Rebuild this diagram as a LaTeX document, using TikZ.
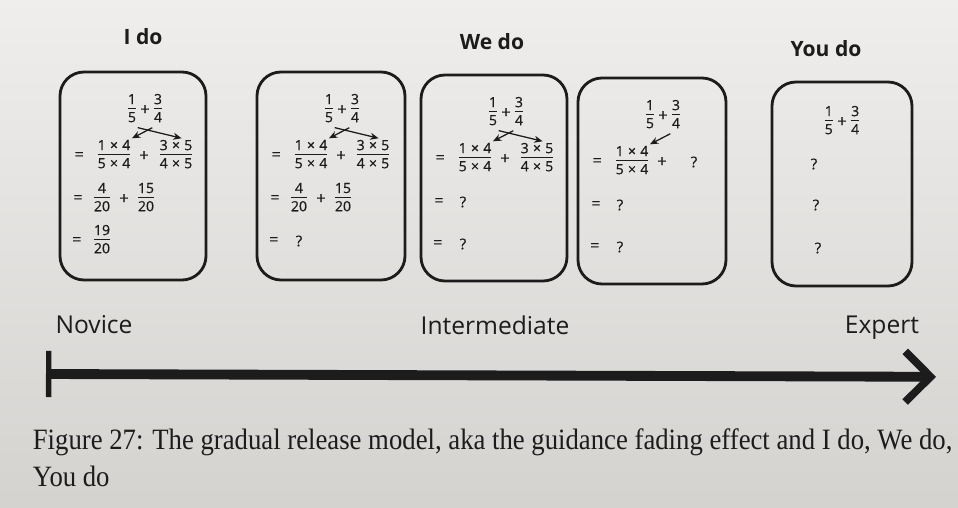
\documentclass[tikz,border=0pt]{standalone}
\usepackage{fontspec}
\setmainfont{Open Sans}
\newfontfamily\sumfont[FakeBold=0.6]{Open Sans}
\newfontfamily\capfont[FakeStretch=0.905]{Liberation Serif}
\usetikzlibrary{arrows.meta}
\definecolor{paper}{RGB}{226,224,221}
\definecolor{ink}{RGB}{28,28,28}
\setlength{\arrayrulewidth}{0.8pt}
\newcommand{\fr}[2]{{\renewcommand{\arraystretch}{0.82}\begin{tabular}{@{}c@{}}#1\\\hline\noalign{\vskip 2.2pt}#2\end{tabular}}}
\newcommand{\tms}{\hspace{0.3em}×\hspace{0.3em}}

\begin{document}
\begin{tikzpicture}[
		every node/.style={text=ink, font=\sumfont\fontsize{10}{11}\selectfont, inner sep=1pt},
		op/.style={font=\sumfont\fontsize{11.5}{12}\selectfont},
		card/.style={draw=ink, line width=2pt, rounded corners=0.6cm},
		title/.style={font=\rmfamily\fontsize{15}{17}\selectfont\bfseries},
		level/.style={font=\rmfamily\fontsize{17.5}{20}\selectfont},
		cross/.style={-{Stealth[length=6pt,width=5pt]}, line width=0.9pt, draw=ink},
		ask/.style={font=\sumfont\fontsize{10.5}{12}\selectfont}
	]
	\shade[top color=paper!55!white, bottom color=paper!94!black] (0,0) rectangle (23.95,-12.7);
	\useasboundingbox (0,0) rectangle (23.95,-12.7);

	\node[title] (ido) at (3.575,-0.925) {I do};
	\node[title] (wedo) at (12.3,-1.05) {We do};
	\node[title] (youdo) at (20.65,-1.225) {You do};

	\begin{scope}[shift={(1.5,-1.8)}]
		\draw[card] (0,0) rectangle (3.65,-5.2);
		\node (b1a) at (1.8,-0.95) {\fr{1}{5}};
		\node[op] (b1p) at (2.125,-0.95) {+};
		\node (b1b) at (2.45,-0.95) {\fr{3}{4}};
		\node[op] (b1e) at (0.48,-2.1) {=};
		\node (b1c) at (1.35,-2.1) {\fr{1\tms4}{5\tms4}};
		\node[op] (b1q) at (2.1,-2.1) {+};
		\node (b1d) at (2.9,-2.1) {\fr{3\tms5}{4\tms5}};
		\node[op] (b1f) at (0.45,-3.175) {=};
		\node (b1g) at (1.05,-3.175) {\fr{4}{20}};
		\node[op] (b1r) at (1.6,-3.175) {+};
		\node (b1h) at (2.15,-3.175) {\fr{15}{20}};
		\node[op] (b1i) at (0.42,-4.225) {=};
		\node (b1j) at (1.05,-4.225) {\fr{19}{20}};
		\draw[cross] (b1a.south east) -- ([xshift=4pt]b1d.north);
		\draw[cross] (b1b.south west) -- (b1c.north east);
	\end{scope}

	\begin{scope}[shift={(6.425,-1.8)}]
		\draw[card] (0,0) rectangle (3.7,-5.2);
		\node (b2a) at (1.8,-0.95) {\fr{1}{5}};
		\node[op] (b2p) at (2.125,-0.95) {+};
		\node (b2b) at (2.45,-0.95) {\fr{3}{4}};
		\node[op] (b2e) at (0.48,-2.1) {=};
		\node (b2c) at (1.35,-2.1) {\fr{1\tms4}{5\tms4}};
		\node[op] (b2q) at (2.1,-2.1) {+};
		\node (b2d) at (2.9,-2.1) {\fr{3\tms5}{4\tms5}};
		\node[op] (b2f) at (0.45,-3.175) {=};
		\node (b2g) at (1.05,-3.175) {\fr{4}{20}};
		\node[op] (b2r) at (1.6,-3.175) {+};
		\node (b2h) at (2.15,-3.175) {\fr{15}{20}};
		\node[op] (b2i) at (0.42,-4.225) {=};
		\node[ask] (b2j) at (1.05,-4.225) {?};
		\draw[cross] (b2a.south east) -- ([xshift=4pt]b2d.north);
		\draw[cross] (b2b.south west) -- (b2c.north east);
	\end{scope}

	\begin{scope}[shift={(10.525,-1.875)}]
		\draw[card] (0,0) rectangle (3.65,-5.15);
		\node (b3a) at (1.8,-0.95) {\fr{1}{5}};
		\node[op] (b3p) at (2.125,-0.95) {+};
		\node (b3b) at (2.45,-0.95) {\fr{3}{4}};
		\node[op] (b3e) at (0.48,-2.1) {=};
		\node (b3c) at (1.35,-2.1) {\fr{1\tms4}{5\tms4}};
		\node[op] (b3q) at (2.1,-2.1) {+};
		\node (b3d) at (2.9,-2.1) {\fr{3\tms5}{4\tms5}};
		\node[op] (b3f) at (0.45,-3.175) {=};
		\node[ask] (b3g) at (1.05,-3.175) {?};
		\node[op] (b3i) at (0.42,-4.225) {=};
		\node[ask] (b3j) at (1.05,-4.225) {?};
		\draw[cross] (b3a.south east) -- ([xshift=4pt]b3d.north);
		\draw[cross] (b3b.south west) -- (b3c.north east);
	\end{scope}

	\begin{scope}[shift={(14.45,-1.95)}]
		\draw[card] (0,0) rectangle (3.7,-5.15);
		\node (b4a) at (1.8,-0.95) {\fr{1}{5}};
		\node[op] (b4p) at (2.125,-0.95) {+};
		\node (b4b) at (2.45,-0.95) {\fr{3}{4}};
		\node[op] (b4e) at (0.48,-2.1) {=};
		\node (b4c) at (1.35,-2.1) {\fr{1\tms4}{5\tms4}};
		\node[op] (b4q) at (2.1,-2.1) {+};
		\node[ask] (b4d) at (2.9,-2.1) {?};
		\node[op] (b4f) at (0.45,-3.175) {=};
		\node[ask] (b4g) at (1.05,-3.175) {?};
		\node[op] (b4i) at (0.42,-4.225) {=};
		\node[ask] (b4j) at (1.05,-4.225) {?};
		\draw[cross] (b4b.south west) -- (b4c.north east);
	\end{scope}

	\begin{scope}[shift={(19.3,-2.05)}]
		\draw[card] (0,0) rectangle (3.5,-5.1);
		\node (b5a) at (1.42,-1.0) {\fr{1}{5}};
		\node[op] (b5p) at (1.75,-1.0) {+};
		\node (b5b) at (2.08,-1.0) {\fr{3}{4}};
		\node[ask] (b5c) at (1.05,-2.05) {?};
		\node[ask] (b5d) at (1.1,-3.075) {?};
		\node[ask] (b5e) at (1.15,-4.15) {?};
	\end{scope}

	\node[level] (novice) at (2.35,-8.125) {Novice};
	\node[level] (inter) at (12.375,-8.125) {Intermediate};
	\node[level] (expert) at (22.05,-8.2) {Expert};

	\coordinate (start) at (1.15,-9.35);
	\coordinate (finish) at (23.4,-9.42);
	\draw[draw=ink, line width=7pt, {Bar[width=33pt,line width=3.8pt]}-{Straight Barb[length=18pt,width=36pt,line width=5.5pt]}] (start) -- (finish);

	\node[anchor=north west, align=left, font=\capfont\fontsize{21}{26}\selectfont] (caption) at (0.78,-10.68) {Figure 27: The gradual release model, aka the guidance fading effect and I do, We do,\\You do};
\end{tikzpicture}
\end{document}
